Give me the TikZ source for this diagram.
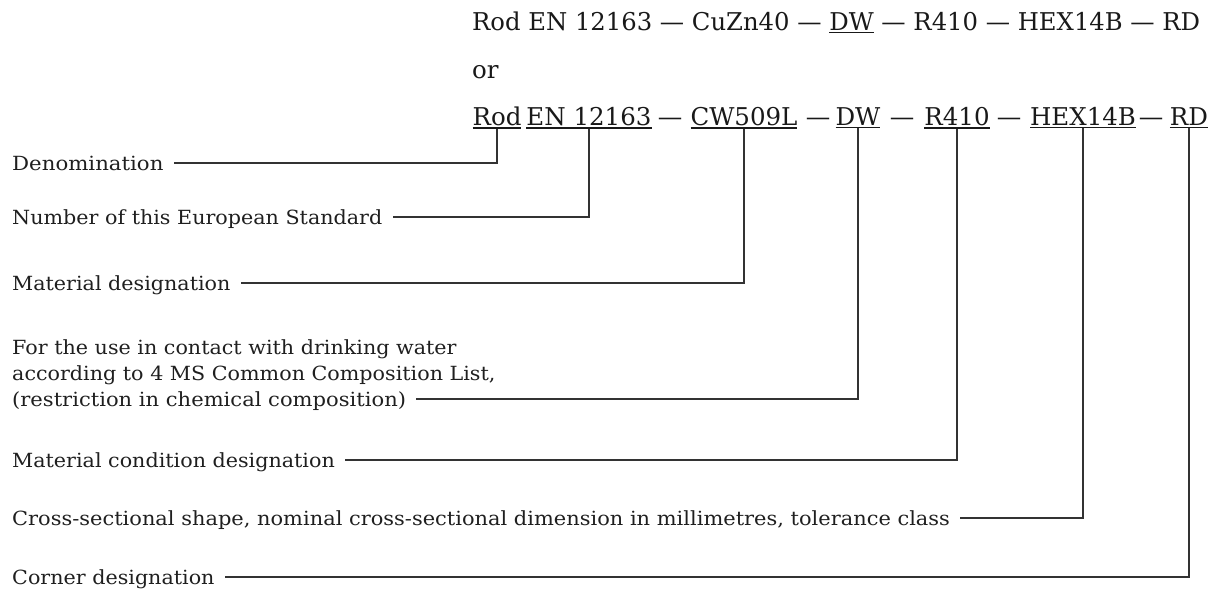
\documentclass[tikz,border=0pt]{standalone}
\usepackage{fontspec}
\setmainfont{DejaVu Serif}
\usepackage{graphicx}
\newcommand\ul[1]{\leavevmode\vtop{\hbox{#1}\kern1.5pt\hrule height 1.7pt}}
\newcommand\lx[2][1.06]{\scalebox{#1}[1]{#2}}
\tikzset{
  code/.style={inner sep=0pt, anchor=base, font=\fontsize{24.5}{28}\selectfont, text=black!90},
  lab/.style={inner sep=0pt, anchor=west, font=\fontsize{19.5}{26}\selectfont, text height=14pt, text depth=0pt, text=black!88},
  conn/.style={line width=1.6pt, draw=black!80}
}
\begin{document}
\begin{tikzpicture}[x=1pt,y=-1pt]
\useasboundingbox (0,0) rectangle (1214,590);
% top lines
\node[code, anchor=base west] (l1) at (472,30) {\resizebox{728pt}{\height}{Rod EN 12163 — CuZn40 — \ul{DW} — R410 — HEX14B — RD}};
\node[code, anchor=base west] (or) at (472,78) {or};
% line 3 parts
\node[code] (rod) at (497,125) {\ul{Rod}};
\node[code] (en)  at (589,125) {\ul{EN 12163}};
\node[code] (d1)  at (670,125) {—};
\node[code] (cw)  at (744,125) {\ul{CW509L}};
\node[code] (d2)  at (818,125) {—};
\node[code] (dw)  at (858,125) {\ul{DW}};
\node[code] (d3)  at (902,125) {—};
\node[code] (r)   at (957,125) {\ul{R410}};
\node[code] (d4)  at (1009,125) {—};
\node[code] (hex) at (1083,125) {\ul{HEX14B}};
\node[code] (d5)  at (1151,125) {—};
\node[code] (rd)  at (1189,125) {\ul{RD}};
% labels
\node[lab] (den)  at (12,163) {\lx[1.09]{Denomination}};
\node[lab] (num)  at (12,217) {\lx{Number of this European Standard}};
\node[lab] (mat)  at (12,283) {\lx{Material designation}};
\node[lab] (dwa)  at (12,347) {\lx{For the use in contact with drinking water}};
\node[lab] (dwb)  at (12,373) {\lx{according to 4 MS Common Composition List,}};
\node[lab] (dwc)  at (12,399) {\lx[1.08]{(restriction in chemical composition)}};
\node[lab] (cond) at (12,460) {\lx{Material condition designation}};
\node[lab] (cs)   at (12,518) {\lx[1.074]{Cross-sectional shape, nominal cross-sectional dimension in millimetres, tolerance class}};
\node[lab] (cor)  at (12,577) {\lx{Corner designation}};
% connectors
\draw[conn] (rod.south) |- ([xshift=10pt]den.east);
\draw[conn] (en.south)  |- ([xshift=10pt]num.east);
\draw[conn] (cw.south)  |- ([xshift=10pt]mat.east);
\draw[conn] (dw.south)  |- ([xshift=10pt]dwc.east);
\draw[conn] (r.south)   |- ([xshift=10pt]cond.east);
\draw[conn] (hex.south) |- ([xshift=10pt]cs.east);
\draw[conn] (rd.south)  |- ([xshift=10pt]cor.east);
\end{tikzpicture}
\end{document}
